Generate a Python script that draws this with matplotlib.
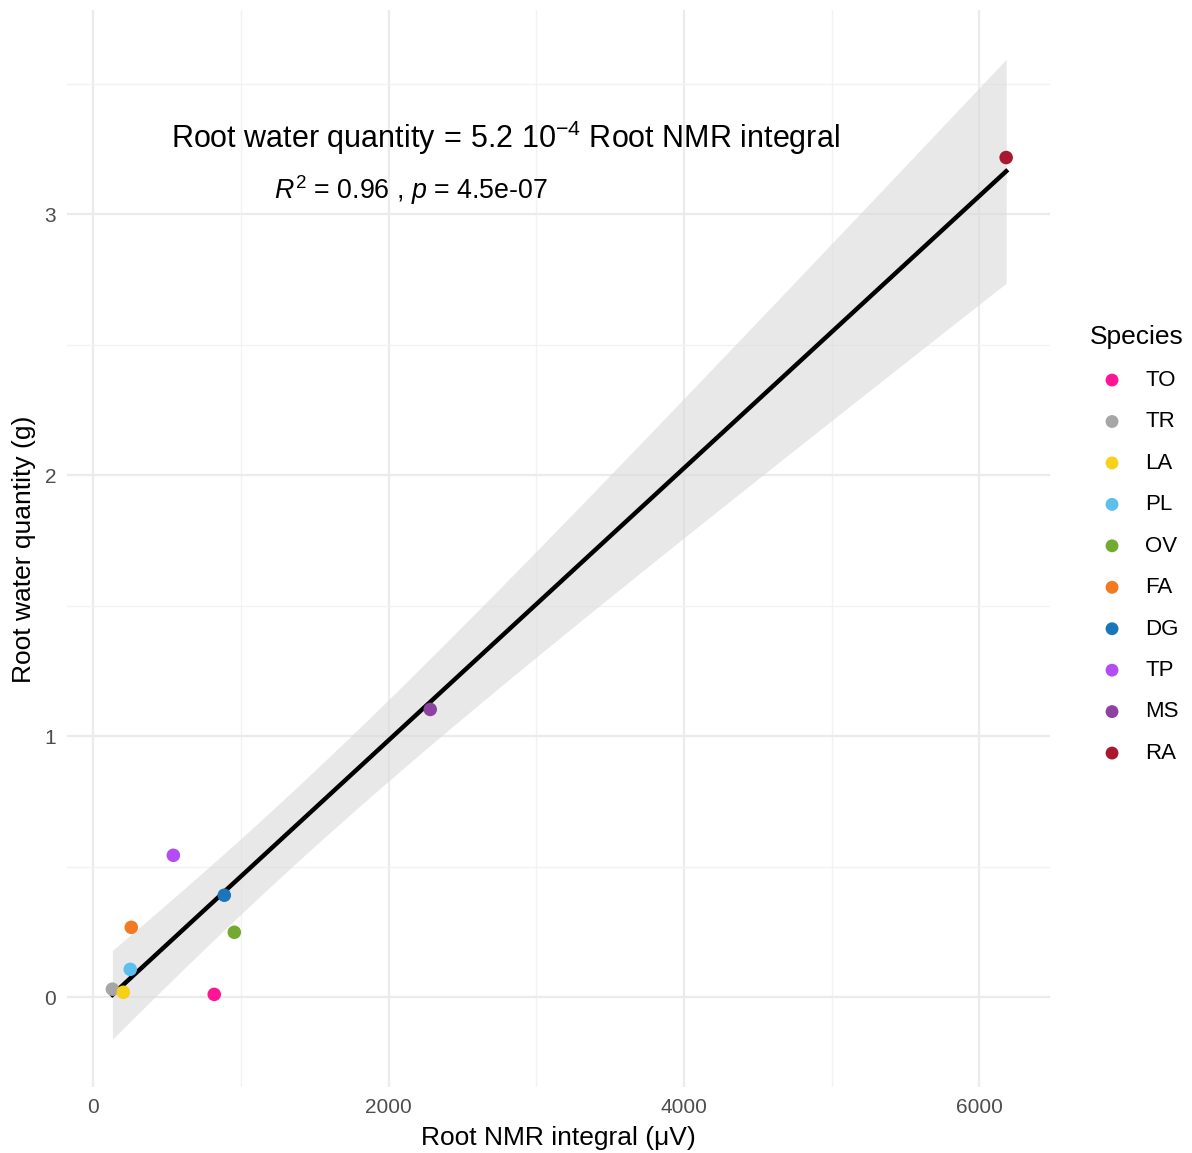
import numpy as np
import matplotlib
matplotlib.use("Agg")
import matplotlib.pyplot as plt

plt.rcParams['font.family'] = ['Liberation Sans', 'DejaVu Sans']
plt.rcParams['mathtext.fontset'] = 'custom'
plt.rcParams['mathtext.rm'] = 'Liberation Sans'
plt.rcParams['mathtext.it'] = 'Liberation Sans:italic'

# data
species = ['TO', 'TR', 'LA', 'PL', 'OV', 'FA', 'DG', 'TP', 'MS', 'RA']
nmr = [819, 129, 203, 250, 955, 257, 887, 542, 2282, 6183]
water = [0.011, 0.031, 0.019, 0.107, 0.249, 0.268, 0.391, 0.544, 1.103, 3.218]
colours = ['#FF1493', '#A6A6A6', '#F7D117', '#5BC0EB', '#72AA32',
           '#F37A22', '#1B75BB', '#B44CF5', '#8B42A0', '#A8182E']

x = np.array(nmr, dtype=float)
y = np.array(water)

# linear fit with 95% confidence band
slope, icpt = np.polyfit(x, y, 1)
n = len(x)
resid = y - (slope * x + icpt)
s = np.sqrt(np.sum(resid ** 2) / (n - 2))
t_crit = 2.306  # t(0.975, df=8)
xs = np.linspace(x.min(), x.max(), 200)
ys = slope * xs + icpt
se = s * np.sqrt(1.0 / n + (xs - x.mean()) ** 2 / np.sum((x - x.mean()) ** 2))

fig = plt.figure(figsize=(11.92, 11.53), dpi=100)
ax = fig.add_axes([0.0565, 0.057, 0.8245, 0.934])

ax.fill_between(xs, ys - t_crit * se, ys + t_crit * se, color='#D9D9D9',
                alpha=0.6, lw=0, zorder=2)
ax.plot(xs, ys, color='black', lw=3.2, zorder=3)

for sp, xi, yi, c in zip(species, nmr, water, colours):
    ax.scatter(xi, yi, s=95, color=c, label=sp, zorder=4, edgecolors='none')

ax.set_xlim(-176, 6481)
ax.set_ylim(-0.345, 3.782)
ax.set_xticks([0, 2000, 4000, 6000])
ax.set_yticks([0, 1, 2, 3])
ax.set_xticks([1000, 3000, 5000], minor=True)
ax.set_yticks([0.5, 1.5, 2.5, 3.5], minor=True)
ax.grid(which='major', color='#EBEBEB', lw=1.6, zorder=0)
ax.grid(which='minor', color='#F2F2F2', lw=1.0, zorder=0)
ax.set_axisbelow(True)
for sp_ in ax.spines.values():
    sp_.set_visible(False)
ax.tick_params(which='both', length=0, labelsize=15, labelcolor='#4D4D4D', pad=8)

ax.set_xlabel('Root NMR integral (μV)', fontsize=19, labelpad=6)
ax.set_ylabel('Root water quantity (g)', fontsize=19, labelpad=6)

ax.text(0.446, 0.882, r'Root water quantity$\,=\,$5.2 10$^{-4}$ Root NMR integral',
        transform=ax.transAxes, ha='center', va='center', fontsize=22)
ax.text(0.35, 0.833, r'$R^2$ = 0.96 , $p$ = 4.5e-07',
        transform=ax.transAxes, ha='center', va='center', fontsize=19.3)

leg = ax.legend(loc='upper left', bbox_to_anchor=(1.02, 0.726), frameon=False,
                title='Species', fontsize=16, title_fontsize=19,
                labelspacing=0.92, handletextpad=0.5, markerscale=0.95)
leg._legend_box.align = 'left'

fig.savefig('out.png', dpi=100)
